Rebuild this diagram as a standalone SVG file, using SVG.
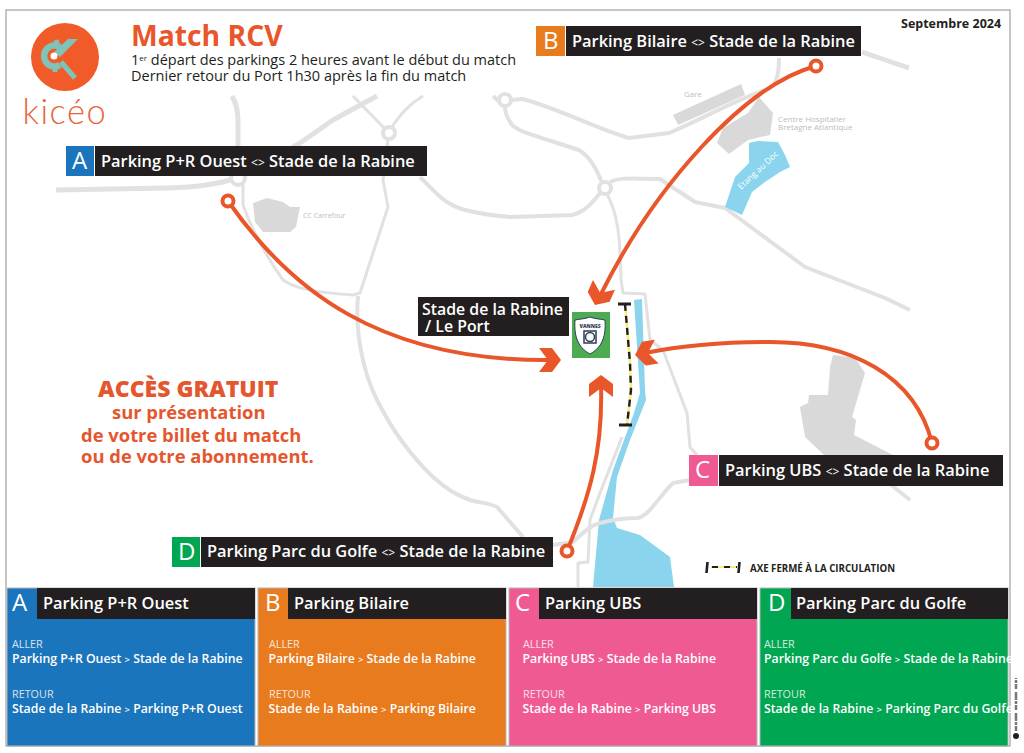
<svg xmlns="http://www.w3.org/2000/svg" width="1024" height="753" viewBox="0 0 1024 753">
<style>
text{font-family:"Open Sans","Noto Sans","DejaVu Sans",sans-serif}
.r{fill:none;stroke:#e1e1e1;stroke-width:5;stroke-linecap:butt;stroke-linejoin:round}
.t{fill:none;stroke:#e1e1e1;stroke-width:3;stroke-linejoin:round}
.rb{fill:#fff;stroke:#e1e1e1;stroke-width:4}
.b{fill:#d9d9d9}
.w{fill:#8ad4ee}
.ml{fill:#bdbdbd;font-size:8px}
.k{fill:#231f20}
.lab{fill:#fff;font-size:16.4px;font-weight:600}
.let{fill:#fff;font-size:24px;font-weight:500}
.sm{font-size:12px;font-weight:400}
.arr{fill:none;stroke:#e8562a;stroke-width:4;stroke-linecap:butt}
.pin{fill:#fff;stroke:#e8562a;stroke-width:4}
.ch{fill:#e8562a}
.h{fill:#fff;font-size:16.4px;font-weight:600}
.a1{fill:#fff;font-size:10.8px;opacity:.8}
.a2{fill:#fff;font-size:12.3px;font-weight:600}
.gt{font-size:9.5px}
.o{fill:#e4572e;font-weight:700;font-size:18.4px}
.dash{fill:none;stroke:#231f20;stroke-width:2.4;stroke-dasharray:7 5}
.yel{fill:none;stroke:#f7ee7f;stroke-width:2.6}
</style>
<defs><polygon id="chev" points="0,0 -9,-12 -22,-12 -13,0 -22,12 -9,12"/></defs>
<rect x="0" y="0" width="1024" height="753" fill="#fff"/>
<rect x="6" y="10" width="1004" height="736" fill="#fff" stroke="#a0a0a0" stroke-width="1.2"/>

<g id="map">
<path class="r" d="M56,190 L167,188 C195,187 215,185 238,178 C262,168 285,152 300,143 L333,120 L377,96"/>
<path class="r" d="M232,96 C237,105 238,112 238,125 L238,172"/>
<path class="t" d="M243,184 L243,205 C250,225 262,250 283,280 C295,288 310,292 353,295 L360,293 L388,207 L383,180 L388,140"/>
<path class="r" d="M358,296 C355,330 362,370 377,400 C392,430 410,455 433,477 C445,488 455,495 470,500 C480,503 490,503 497,507 L523,537" style="stroke-width:4"/>
<path class="t" d="M353,96 L385,129 M423,96 C408,105 400,115 392,127"/>
<path class="r" d="M420,177 C435,192 445,205 465,210 C485,215 495,216 512,217 L572,215 C585,212 593,202 600,193" style="stroke-width:4"/>
<path class="r" d="M493,96 L502,104 M512,125 C505,115 505,110 505,106 M512,125 C520,132 530,134 579,150 C592,158 597,172 602,182" style="stroke-width:4"/>
<path class="r" d="M512,100 L522,99 C550,105 600,130 629,138 L669,133 C700,120 735,100 765,90 C775,86 779,80 779,58" style="stroke-width:4"/>
<path class="r" d="M610,182 C618,178 625,178 660,179 L695,202 L725,208 L759,233 L805,267 L885,298 L910,310" style="stroke-width:4"/>
<path class="r" d="M862,52 L909,68"/>
<path class="t" d="M607,194 C618,215 620,235 621,280 L623,293 L645,294 L650,340 L663,350 L687,413 L690,447 L697,455"/>
<path class="t" d="M622,437 L600,493 L590,520 L588,562 L578,563 L578,587"/>
<circle class="rb" cx="238" cy="178" r="7"/>
<circle class="rb" cx="389" cy="133" r="6"/>
<circle class="rb" cx="505" cy="100" r="6"/>
<circle class="rb" cx="605" cy="188" r="6"/>
<polygon class="b" points="253,203 267,198 283,202 290,207 300,207 296,227 290,232 263,232 255,222"/>
<polygon class="b" points="673,115 741,84 745,95 678,125"/>
<polygon class="b" points="759,97 773,113 770,135 748,140 729,154 717,143 723,128 748,113"/>
<polygon class="w" points="749,143 758,141 778,142 785,155 790,167 780,172 765,182 752,192 742,215 725,207 735,177 749,163"/>
<polygon class="b" points="833,355 855,358 865,373 857,400 852,417 856,420 854,435 893,455 893,470 840,470 805,437 800,407 808,403 809,395 828,395 830,367"/>
<path class="r" d="M885,480 L910,500" style="stroke-width:4"/>
<polygon class="w" points="634,300 642,299 645,390 646,400 630,440 617,477 613,518 617,528 640,535 670,557 674,587 593,587 599,520 613,470 634,413 640,393"/>
<path class="r" d="M553,545 L573,542 C585,530 592,525 600,523 C615,519 625,518 638,518 C650,515 660,495 673,483 L690,480" style="stroke-width:4"/>
<text class="ml" x="303" y="218" style="font-size:7px">CC Carrefour</text>
<text class="ml" x="684" y="97">Gare</text>
<text class="ml" x="778" y="122">Centre Hospitalier</text>
<text class="ml" x="778" y="130">Bretagne Atlantique</text>
<text x="0" y="0" fill="#fff" style="font-size:8.5px" transform="translate(741,190) rotate(-43)">Etang au Doc</text>
</g>

<g id="closed-axis">
<path class="yel" d="M625,304 L630,363 L631,390 L627,425"/>
<path class="dash" d="M625,304 L630,363 L631,390 L627,425"/>
<path d="M618,304 H631 M619,425 H632" stroke="#231f20" stroke-width="3" fill="none"/>
</g>

<g id="logo">
<circle cx="65" cy="57" r="34" fill="#f15a29"/>
<path d="M60,47 A10.500,10.500 0 1 0 60,65" fill="none" stroke="#7fc4b8" stroke-width="6.500"/>
<path d="M56,40 L58,47 M55,72 L55,66 M61,62 L75,78" fill="none" stroke="#7fc4b8" stroke-width="5"/>
<polygon points="68,39 78,39 60,57 54,52" fill="#7fc4b8"/>
<circle cx="54" cy="56" r="3.500" fill="#fff"/>
<text x="22.500" y="124" fill="#e8653a" style="font-size:34.500px;font-weight:300;font-family:Lato,'Open Sans',sans-serif;letter-spacing:1.500px">kicéo</text>
</g>

<g id="title">
<text x="131" y="46" fill="#e8562a" style="font-size:28.300px;font-weight:700">Match RCV</text>
<text x="131" y="64.500" fill="#231f20" style="font-size:14.500px">1<tspan dy="-4" style="font-size:8px">er</tspan><tspan dy="4"> départ des parkings 2 heures avant le début du match</tspan></text>
<text x="131" y="81" fill="#231f20" style="font-size:14.500px">Dernier retour du Port 1h30 après la fin du match</text>
<text x="901" y="28" fill="#231f20" style="font-size:12.500px;font-weight:700">Septembre 2024</text>
</g>

<g id="free-access">
<text x="98" y="397" fill="#e4572e" style="font-size:23px;font-weight:800">ACCÈS GRATUIT</text>
<text class="o" x="112" y="419">sur présentation</text>
<text class="o" x="81" y="442">de votre billet du match</text>
<text class="o" x="81" y="463">ou de votre abonnement.</text>
</g>

<g id="connectors">
<path class="arr" d="M228,201 C290,290 380,362 552,360"/>
<use href="#chev" class="ch" transform="translate(561,360)"/>
<path class="arr" d="M816,66 C745,85 655,185 600,296"/>
<use href="#chev" class="ch" transform="translate(595,305) rotate(114)"/>
<path class="arr" d="M932,443 C915,375 850,342 770,342 C725,342 680,346 645,353"/>
<use href="#chev" class="ch" transform="translate(635,355) rotate(171)"/>
<path class="arr" d="M567,551 C590,495 603,450 601,385"/>
<use href="#chev" class="ch" transform="translate(601,375) rotate(-90)"/>
<circle class="pin" cx="228" cy="201" r="5.500"/>
<circle class="pin" cx="816" cy="66" r="5.500"/>
<circle class="pin" cx="932" cy="443" r="5.500"/>
<circle class="pin" cx="567" cy="551" r="5.500"/>
</g>

<g id="stadium">
<rect class="k" x="418" y="297" width="151" height="39"/>
<text class="lab" x="422" y="315" style="font-size:15.850px">Stade de la Rabine</text>
<text class="lab" x="425" y="331.500" style="font-size:15.850px">/ Le Port</text>
<rect x="572" y="312" width="38" height="46" fill="#4dab52"/>
<path d="M590,317 C595,319 601,319 605,320 C606,335 603,347 590,354 C577,347 574,335 575,320 C579,319 585,319 590,317 Z" fill="#fff" stroke="#2f3f55" stroke-width="1"/>
<text x="590" y="328" text-anchor="middle" fill="#2f3f55" style="font-size:5px;font-weight:800">VANNES</text>
<rect x="584" y="331" width="12" height="12" fill="none" stroke="#2f3f55" stroke-width="1.500"/>
<circle cx="590" cy="337" r="4.500" fill="none" stroke="#2f3f55" stroke-width="1.500"/>
</g>

<g id="label-a">
<rect x="66" y="146" width="28" height="30" fill="#1b75bc"/>
<rect class="k" x="95" y="146" width="332" height="30"/>
<text class="let" x="72" y="169">A</text>
<text class="lab" x="101" y="166.500">Parking P+R Ouest <tspan class="sm">&lt;&gt;</tspan> Stade de la Rabine</text>
</g>
<g id="label-b">
<rect x="536" y="26" width="29" height="30" fill="#e87b1e"/>
<rect class="k" x="566" y="26" width="295" height="30"/>
<text class="let" x="543" y="49">B</text>
<text class="lab" x="572" y="46.500">Parking Bilaire <tspan class="sm">&lt;&gt;</tspan> Stade de la Rabine</text>
</g>
<g id="label-c">
<rect x="689" y="455" width="29" height="31" fill="#ef5a93"/>
<rect class="k" x="719" y="455" width="284" height="31"/>
<text class="let" x="695" y="478">C</text>
<text class="lab" x="725" y="476">Parking UBS <tspan class="sm">&lt;&gt;</tspan> Stade de la Rabine</text>
</g>
<g id="label-d">
<rect x="172" y="537" width="28" height="30" fill="#00a651"/>
<rect class="k" x="201" y="537" width="352" height="30"/>
<text class="let" x="178" y="560">D</text>
<text class="lab" x="207" y="557">Parking Parc du Golfe <tspan class="sm">&lt;&gt;</tspan> Stade de la Rabine</text>
</g>

<g id="legend">
<path d="M711,567 H737" stroke="#f7ee7f" stroke-width="2"/>
<path d="M711,567 H737" stroke="#231f20" stroke-width="2" stroke-dasharray="6 6" stroke-dashoffset="-1"/>
<path d="M707.500,562 L706.500,573 M739.500,562 L738.500,573" stroke="#231f20" stroke-width="2.600"/>
<text x="750" y="572" fill="#231f20" style="font-size:9.700px;font-weight:700">AXE FERMÉ À LA CIRCULATION</text>
</g>

<g id="panel-a">
<rect x="7" y="588" width="248" height="158" fill="#1b75bc" stroke="#b5b5b5"/>
<rect class="k" x="37" y="588" width="218" height="31"/>
<text class="let" x="12" y="611">A</text>
<text class="h" x="43" y="609">Parking P+R Ouest</text>
<text class="a1" x="12" y="647.500">ALLER</text>
<text class="a2" x="12" y="662.500">Parking P+R Ouest <tspan class="gt">&gt;</tspan> Stade de la Rabine</text>
<text class="a1" x="12" y="697.500">RETOUR</text>
<text class="a2" x="12" y="712.500">Stade de la Rabine <tspan class="gt">&gt;</tspan> Parking P+R Ouest</text>
</g>
<g id="panel-b">
<rect x="258" y="588" width="248" height="158" fill="#e87b1e" stroke="#b5b5b5"/>
<rect class="k" x="288" y="588" width="218" height="31"/>
<text class="let" x="265" y="611">B</text>
<text class="h" x="294" y="609">Parking Bilaire</text>
<text class="a1" x="269" y="647.500">ALLER</text>
<text class="a2" x="268.500" y="662.500">Parking Bilaire <tspan class="gt">&gt;</tspan> Stade de la Rabine</text>
<text class="a1" x="269" y="697.500">RETOUR</text>
<text class="a2" x="268.500" y="712.500">Stade de la Rabine <tspan class="gt">&gt;</tspan> Parking Bilaire</text>
</g>
<g id="panel-c">
<rect x="509" y="588" width="248" height="158" fill="#ef5a93" stroke="#b5b5b5"/>
<rect class="k" x="539" y="588" width="218" height="31"/>
<text class="let" x="515" y="611">C</text>
<text class="h" x="545" y="609">Parking UBS</text>
<text class="a1" x="523" y="647.500">ALLER</text>
<text class="a2" x="522.500" y="662.500">Parking UBS <tspan class="gt">&gt;</tspan> Stade de la Rabine</text>
<text class="a1" x="523" y="697.500">RETOUR</text>
<text class="a2" x="522.500" y="712.500">Stade de la Rabine <tspan class="gt">&gt;</tspan> Parking UBS</text>
</g>
<g id="panel-d">
<rect x="760" y="588" width="248" height="158" fill="#00a651" stroke="#b5b5b5"/>
<rect class="k" x="791" y="588" width="217" height="31"/>
<text class="let" x="768" y="611">D</text>
<text class="h" x="796" y="609">Parking Parc du Golfe</text>
<text class="a1" x="764" y="647.500">ALLER</text>
<text class="a2" x="764" y="662.500">Parking Parc du Golfe <tspan class="gt">&gt;</tspan> Stade de la Rabine</text>
<text class="a1" x="764" y="697.500">RETOUR</text>
<text class="a2" x="764" y="712.500">Stade de la Rabine <tspan class="gt">&gt;</tspan> Parking Parc du Golfe</text>
</g>
<g id="credit">
<circle cx="1016" cy="736" r="3" fill="#231f20"/>
<path d="M1016,731 V678" stroke="#777" stroke-width="2.500" stroke-dasharray="5 1 3 1 8 3" fill="none"/>
</g>
</svg>
